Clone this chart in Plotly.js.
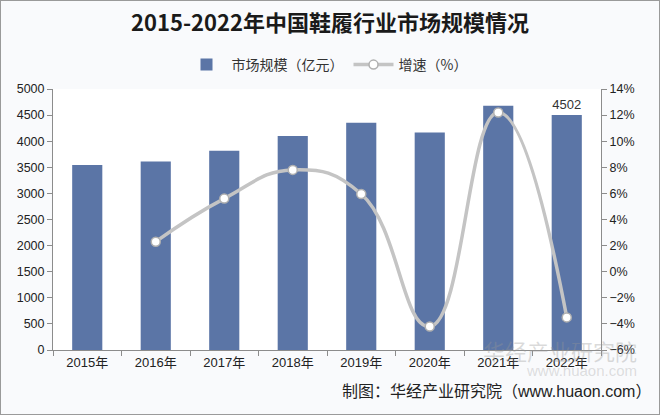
<!DOCTYPE html>
<html><head><meta charset="utf-8">
<script src="https://cdn.plot.ly/plotly-3.0.1.min.js"></script>
<style>
html,body{margin:0;padding:0;background:#fff;}
#chart{width:658px;height:413px;border:1px solid #9a9a9a;}
</style></head>
<body><div id="chart"></div>
<script>
const years = ['2015年','2016年','2017年','2018年','2019年','2020年','2021年','2022年'];
const marketSize = [3544, 3610, 3818, 4100, 4355, 4165, 4680, 4502];
const growthYears = ['2016年','2017年','2018年','2019年','2020年','2021年','2022年'];
const growthRate = [2.3, 5.6, 7.8, 5.95, -4.2, 12.2, -3.5];
const barLabels = marketSize.map((v,i)=> i===marketSize.length-1 ? String(v) : '');

const font = 'Liberation Sans, Arial, Noto Sans CJK SC, sans-serif';
const cjk = 'Noto Sans CJK SC, sans-serif';

const traces = [
 {type:'bar', x:years, y:marketSize, name:'市场规模（亿元）',
  marker:{color:'#5b75a6'}, text:barLabels, textposition:'outside',
  textfont:{family:font,size:13,color:'#333'}, cliponaxis:false, hoverinfo:'x+y'},
 {type:'scatter', mode:'lines+markers', x:growthYears, y:growthRate, name:'增速（%）', yaxis:'y2',
  line:{color:'#c4c4c4', width:3.5, shape:'spline', smoothing:1.3},
  marker:{color:'#ffffff', size:9, line:{color:'#b0b0b0', width:1.5}}}
];

const layout = {
 width:658, height:413,
 margin:{l:52, r:58, t:88, b:64},
 paper_bgcolor:'#f9fafc', plot_bgcolor:'#ffffff',
 bargap:0.56,
 showlegend:true,
 title:{text:'2015-2022年中国鞋履行业市场规模情况', font:{family:cjk, size:22, color:'#1a1a1a', weight:'bold'},
   x:0.5, xanchor:'center', y:0.947, yref:'container', yanchor:'middle'},
 legend:{orientation:'h', x:0.5, xanchor:'center', y:1.092, yanchor:'middle',
   font:{family:cjk, size:14, color:'#333'}, bgcolor:'rgba(0,0,0,0)', itemwidth:40, tracegroupgap:0},
 xaxis:{type:'category', showline:true, linecolor:'#8c8c8c', linewidth:1, ticks:'outside', tickson:'boundaries',
   ticklen:5, tickcolor:'#8c8c8c', tickfont:{family:font,size:13,color:'#222'}, showgrid:false, zeroline:false},
 yaxis:{range:[0,5000], dtick:500, showline:true, linecolor:'#8c8c8c', ticks:'outside', ticklen:5, tickcolor:'#8c8c8c',
   tickfont:{family:font,size:12.5,color:'#222'}, showgrid:false, zeroline:false},
 yaxis2:{overlaying:'y', side:'right', range:[-6,14], dtick:2, ticksuffix:'%', showline:true, linecolor:'#8c8c8c',
   ticks:'outside', ticklen:5, tickcolor:'#8c8c8c', tickfont:{family:font,size:12.5,color:'#222'}, showgrid:false, zeroline:false},
 annotations:[
  {text:'华经产业研究院', xref:'paper', yref:'paper', x:1.07, y:0.0, xanchor:'right', yanchor:'middle', showarrow:false,
   font:{family:cjk, size:22, color:'rgba(150,150,150,0.35)'}},
  {text:'www.huaon.com', xref:'paper', yref:'paper', x:1.07, y:-0.08, xanchor:'right', yanchor:'middle', showarrow:false,
   font:{family:font, size:15, color:'rgba(150,150,150,0.3)'}},
  {text:'制图：华经产业研究院（www.huaon.com）', xref:'paper', yref:'paper', x:1.095, y:-0.16, xanchor:'right', yanchor:'middle', showarrow:false,
   font:{family:'Liberation Sans, Noto Sans CJK SC, sans-serif', size:16, color:'#222'}}
 ]
};
Plotly.newPlot('chart', traces, layout, {displayModeBar:false, staticPlot:true});
</script></body></html>
